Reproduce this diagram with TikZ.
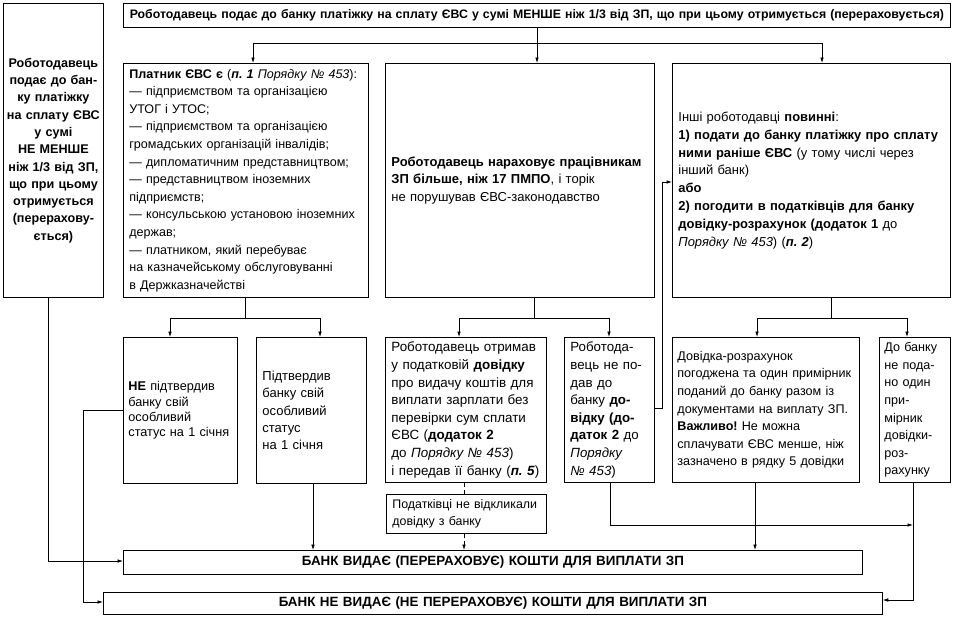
\documentclass[tikz,border=0pt]{standalone}
\usepackage{fontspec}
\setmainfont{Liberation Sans}
\usetikzlibrary{arrows.meta}
\frenchspacing
\begin{document}
\begin{tikzpicture}[x=1pt,y=-1pt,
  box/.style={draw, line width=0.8pt, rectangle, inner xsep=6pt, inner ysep=0pt,
    anchor=north west, align=left, font=\fontsize{12.7}{17.6}\selectfont},
  ln/.style={line width=0.7pt},
  arr/.style={ln, -{Latex[length=5.5pt,width=3.6pt]}},
  dsh/.style={dash pattern=on 4pt off 3pt}]
\useasboundingbox (0,0) rectangle (953,619);
% boxes
\node[box, align=center, inner xsep=1pt, minimum width=100pt, minimum height=294pt, text width=98pt,
  font=\bfseries\fontsize{12.6}{17.3}\selectfont] (L) at (3,3)
  {Роботодавець\\подає до бан-\\ку платіжку\\на сплату ЄВС\\у сумі\\НЕ МЕНШЕ\\ніж 1/3 від ЗП,\\що при цьому\\отримується\\(перерахову-\\ється)};
\node[box, align=center, inner xsep=2pt, minimum width=827pt, minimum height=24pt, text width=823pt,
  font=\bfseries\fontsize{12.3}{14}\selectfont] (top) at (123,3)
  {Роботодавець подає до банку платіжку на сплату ЄВС у сумі МЕНШЕ ніж 1/3 від ЗП, що при цьому отримується (перераховується)};
\node[box, minimum width=245pt, minimum height=234pt, text width=233pt,
  font=\fontsize{12.55}{17.6}\selectfont] (A) at (123,63)
  {\textbf{Платник ЄВС є} (\textbf{\textit{п. 1}} \textit{Порядку №~453}):\\
   — підприємством та організацією\\УТОГ і УТОС;\\
   — підприємством та організацією\\громадських організацій інвалідів;\\
   — дипломатичним представництвом;\\
   — представництвом іноземних\\підприємств;\\
   — консульською установою іноземних\\держав;\\
   — платником, який перебуває\\на казначейському обслуговуванні\\в Держказначействі};
\node[box, minimum width=269pt, minimum height=234pt, text width=257pt,
  font=\fontsize{13}{17.2}\selectfont] (B) at (385,63)
  {\textbf{Роботодавець нараховує працівникам}\\\textbf{ЗП більше, ніж 17 ПМПО}, і торік\\не порушував ЄВС-законодавство};
\node[box, minimum width=278pt, minimum height=234pt, text width=266pt,
  font=\fontsize{12.95}{17.8}\selectfont] (C) at (672,63)
  {Інші роботодавці \textbf{повинні}:\\
   \textbf{1) подати до банку платіжку про сплату}\\
   \textbf{ними раніше ЄВС} (у тому числі через\\інший банк)\\
   \textbf{або}\\
   \textbf{2) погодити в податківців для банку}\\
   \textbf{довідку-розрахунок (додаток 1} до\\
   \textit{Порядку №~453}) (\textbf{\textit{п. 2}})};
\node[box, inner xsep=5pt, minimum width=114pt, minimum height=146pt, text width=104pt,
  font=\fontsize{12.7}{15.3}\selectfont] (A1) at (123,337)
  {\textbf{НЕ} підтвердив\\банку свій\\особливий\\статус на 1 січня};
\node[box, minimum width=110pt, minimum height=146pt, text width=98pt,
  font=\fontsize{13}{17.2}\selectfont] (A2) at (256,337)
  {Підтвердив\\банку свій\\особливий\\статус\\на 1 січня};
\node[box, minimum width=161pt, minimum height=145pt, text width=149pt,
  font=\fontsize{13.4}{17.6}\selectfont] (B1) at (385,337)
  {Роботодавець отримав\\у податковій \textbf{довідку}\\про видачу коштів для\\виплати зарплати без\\перевірки сум сплати\\ЄВС (\textbf{додаток 2}\\до \textit{Порядку №~453})\\і передав її банку (\textbf{\textit{п. 5}})};
\node[box, minimum width=90pt, minimum height=145pt, text width=78pt,
  font=\fontsize{13.3}{17.6}\selectfont] (B2) at (564,337)
  {Роботода-\\вець не по-\\дав до\\банку \textbf{до-}\\\textbf{відку (до-}\\\textbf{даток 2} до\\\textit{Порядку}\\\textit{№~453})};
\node[box, minimum width=160pt, minimum height=39pt, text width=148pt,
  font=\fontsize{12.4}{17}\selectfont] (B3) at (386,494)
  {Податківці не відкликали\\довідку з банку};
\node[box, inner xsep=5pt, minimum width=187pt, minimum height=145pt, text width=177pt,
  font=\fontsize{12.6}{17.6}\selectfont] (C1) at (672,337)
  {Довідка-розрахунок\\погоджена та один примірник\\поданий до банку разом із\\документами на виплату ЗП.\\\textbf{Важливо!} Не можна\\сплачувати ЄВС менше, ніж\\зазначено в рядку 5 довідки};
\node[box, inner xsep=5pt, minimum width=71pt, minimum height=145pt, text width=61pt,
  font=\fontsize{12.6}{17.6}\selectfont] (C2) at (879,337)
  {До банку\\не пода-\\но один\\при-\\мірник\\довідки-\\роз-\\рахунку};
\node[box, align=center, minimum width=739pt, minimum height=24pt, text width=727pt,
  font=\bfseries\fontsize{13.4}{14}\selectfont] (bank1) at (123,550)
  {БАНК ВИДАЄ (ПЕРЕРАХОВУЄ) КОШТИ ДЛЯ ВИПЛАТИ ЗП};
\node[box, align=center, minimum width=779pt, minimum height=22pt, text width=767pt,
  font=\bfseries\fontsize{13.4}{14}\selectfont] (bank2) at (103,592)
  {БАНК НЕ ВИДАЄ (НЕ ПЕРЕРАХОВУЄ) КОШТИ ДЛЯ ВИПЛАТИ ЗП};
% helper coordinates
\coordinate (j1) at (537,43);
\coordinate (xa) at (253,0);
\coordinate (xc) at (822,0);
\coordinate (j2) at (245,318);
\coordinate (xa1) at (170,0);
\coordinate (xa2) at (320,0);
\coordinate (j3) at (534,318);
\coordinate (xb1) at (459,0);
\coordinate (xb2) at (609,0);
\coordinate (j4) at (831,318);
\coordinate (xc1) at (757,0);
\coordinate (xc2) at (907,0);
\coordinate (k1) at (662,408);
\coordinate (k2) at (0,182);
\coordinate (xd) at (464,0);
\coordinate (k3) at (610,525);
\coordinate (k4) at (913,525);
\coordinate (k5) at (913,600);
\coordinate (xc1b) at (755,0);
\coordinate (xa2b) at (313,0);
\coordinate (k6) at (83,410);
\coordinate (k7) at (83,602);
\coordinate (k8) at (48,561);
% connectors
\draw[ln] (top.south -| j1) -- (j1);
\draw[arr] (j1) -| (A.north -| xa);
\draw[arr] (j1) -| (C.north -| xc);
\draw[arr] (j1) -- (B.north -| j1);
\draw[ln] (A.south -| j2) -- (j2);
\draw[arr] (j2) -| (A1.north -| xa1);
\draw[arr] (j2) -| (A2.north -| xa2);
\draw[ln] (B.south -| j3) -- (j3);
\draw[arr] (j3) -| (B1.north -| xb1);
\draw[arr] (j3) -| (B2.north -| xb2);
\draw[ln] (C.south -| j4) -- (j4);
\draw[arr] (j4) -| (C1.north -| xc1);
\draw[arr] (j4) -| (C2.north -| xc2);
\draw[arr] (B2.east |- k1) -- (k1) |- (C.west |- k2);
\draw[ln,dsh] (B1.south -| xd) -- (B3.north -| xd);
\draw[arr,dsh] (B3.south -| xd) -- (bank1.north -| xd);
\draw[arr] (B2.south -| k3) -- (k3) -- (k4);
\draw[arr] (C2.south -| k5) -- (k5) -- (bank2.east |- k5);
\draw[arr] (C1.south -| xc1b) -- (bank1.north -| xc1b);
\draw[arr] (A2.south -| xa2b) -- (bank1.north -| xa2b);
\draw[arr] (A1.west |- k6) -- (k6) -- (k7) -- (bank2.west |- k7);
\draw[arr] (L.south -| k8) -- (k8) -- (bank1.west |- k8);
\end{tikzpicture}
\end{document}
